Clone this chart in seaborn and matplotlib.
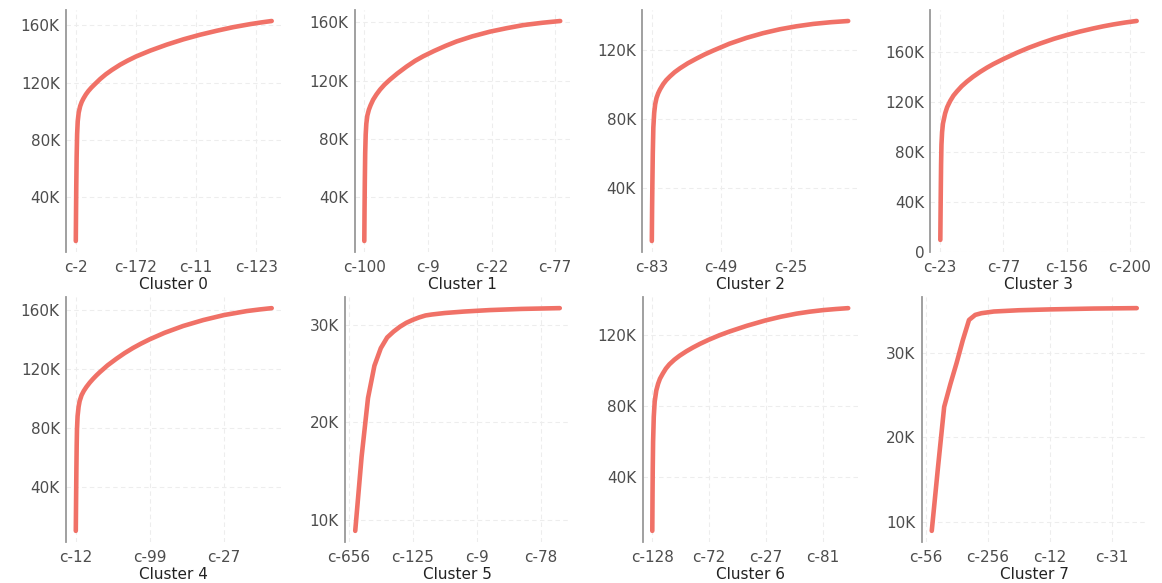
import matplotlib
matplotlib.use("Agg")
import matplotlib.pyplot as plt
import seaborn as sns
import pandas as pd
from matplotlib.ticker import FuncFormatter, MultipleLocator, FixedLocator

# ---------------- data (cumulative word counts by category rank) ----------------
cluster0_rank = [1, 3, 5, 8, 12, 17, 25, 37, 50, 65, 85, 106, 130, 160, 203, 250, 300, 369, 430, 500,
                 618, 756, 894, 1032, 1171, 1308, 1447, 1540, 1627]
cluster0_cum = [9500, 30000, 48000, 68000, 84000, 93000, 99000, 103500, 106500, 109000, 111800, 114200,
                116500, 119000, 122500, 125800, 128800, 132500, 135300, 138200, 142300, 146500, 150200,
                153400, 156200, 158700, 160800, 162000, 163000]
cluster0_ticks = ["c-2", "c-172", "c-11", "c-123"]

cluster1_rank = [1, 3, 5, 8, 12, 17, 25, 37, 50, 70, 96, 125, 160, 201, 260, 332, 400, 463, 550, 640,
                 726, 850, 988, 1120, 1250, 1400, 1539]
cluster1_cum = [10000, 32000, 50000, 70000, 83000, 90500, 96000, 100000, 103000, 106800, 110400, 113800,
                117200, 120500, 124800, 129500, 133500, 136600, 140300, 143800, 146800, 150300, 153500,
                155900, 158000, 159600, 160800]
cluster1_ticks = ["c-100", "c-9", "c-22", "c-77"]

cluster2_rank = [1, 3, 5, 8, 12, 18, 25, 35, 47, 60, 83, 105, 132, 165, 204, 260, 324, 380, 443, 560,
                 683, 800, 923, 1040, 1163, 1290, 1414]
cluster2_cum = [9000, 28000, 42000, 60000, 75000, 83500, 88500, 92300, 95000, 97200, 100300, 102600,
                104800, 107200, 109500, 112400, 115200, 117500, 119800, 123800, 127200, 129900, 132200,
                133900, 135300, 136300, 137000]
cluster2_ticks = ["c-83", "c-49", "c-25"]

cluster3_rank = [1, 3, 5, 7, 10, 15, 22, 39, 55, 79, 105, 132, 170, 211, 260, 316, 370, 421, 500, 606,
                 700, 790, 900, 1001, 1105, 1211, 1290, 1369, 1460, 1554]
cluster3_cum = [9700, 32000, 52000, 70000, 86000, 96000, 103000, 111000, 116000, 121000, 125300, 128600,
                132800, 136500, 140400, 144300, 147700, 150600, 154600, 159600, 163600, 167000, 170800,
                173800, 176600, 179100, 180800, 182300, 183800, 185100]
cluster3_ticks = ["c-23", "c-77", "c-156", "c-200"]

cluster4_rank = [1, 3, 5, 7, 9, 13, 20, 27, 40, 55, 72, 95, 117, 140, 162, 215, 275, 330, 387, 440, 500,
                 600, 725, 860, 1000, 1153, 1240, 1322]
cluster4_cum = [10300, 32000, 52000, 68000, 79000, 88000, 94500, 98300, 102300, 105200, 107800, 110800,
                113300, 115700, 117800, 122500, 127000, 130800, 134300, 137200, 140200, 144600, 149200,
                153200, 156600, 159300, 160400, 161300]
cluster4_ticks = ["c-12", "c-99", "c-27"]

cluster5_rank = [1, 2, 3, 4, 5, 6, 7, 8, 9, 10, 11, 12, 13, 15, 18, 22, 27, 33]
cluster5_cum = [8900, 16500, 22500, 25800, 27600, 28700, 29300, 29800, 30200, 30500, 30750, 30950, 31050,
                31200, 31350, 31500, 31620, 31700]
cluster5_ticks = ["c-656", "c-125", "c-9", "c-78"]

cluster6_rank = [1, 3, 5, 8, 14, 22, 36, 52, 68, 93, 120, 151, 195, 240, 300, 357, 420, 497, 590, 679,
                 830, 993, 1130, 1265, 1380, 1500, 1610, 1719]
cluster6_cum = [10000, 30000, 45000, 60000, 74000, 82500, 88700, 92500, 95300, 98200, 101000, 103400,
                106000, 108200, 110700, 112800, 114900, 117200, 119700, 121800, 125000, 128000, 130100,
                131800, 132900, 133800, 134400, 134900]
cluster6_ticks = ["c-128", "c-72", "c-27", "c-81"]

cluster7_rank = [1, 2, 3, 4, 5, 6, 7, 8, 9, 11, 15, 20, 27, 34]
cluster7_cum = [8900, 16400, 23600, 26300, 28800, 31500, 33900, 34500, 34700, 34900, 35050, 35150, 35250, 35300]
cluster7_ticks = ["c-56", "c-256", "c-12", "c-31"]

tick_step = [500, 500, 500, 500, 500, 10, 500, 10]
y_step = [40000, 40000, 40000, 40000, 40000, 10000, 40000, 10000]

# ---------------- styling ----------------
sns.set_style("white")
plt.rcParams["font.family"] = ["DejaVu Sans"]
LINE = "#F07167"

W, H = 1162, 583
fig = plt.figure(figsize=(W / 100, H / 100), dpi=100)

# axes boxes in pixels: (left, right, top, bottom)
boxes = [
    (66, 281.5, 10, 252), (354.5, 570, 10, 252), (642, 858, 10, 252), (930.5, 1146.5, 10, 252),
    (66, 281.5, 297, 542), (345, 570, 297, 542), (642.5, 858, 297, 542), (921.5, 1147, 297, 542),
]

ranks = [cluster0_rank, cluster1_rank, cluster2_rank, cluster3_rank,
         cluster4_rank, cluster5_rank, cluster6_rank, cluster7_rank]
cums = [cluster0_cum, cluster1_cum, cluster2_cum, cluster3_cum,
        cluster4_cum, cluster5_cum, cluster6_cum, cluster7_cum]
ticks = [cluster0_ticks, cluster1_ticks, cluster2_ticks, cluster3_ticks,
         cluster4_ticks, cluster5_ticks, cluster6_ticks, cluster7_ticks]


def kfmt(v, pos):
    if abs(v) < 1e-9:
        return "0"
    return f"{int(round(v / 1000))}K"


for i in range(8):
    l, r, t, b = boxes[i]
    ax = fig.add_axes([l / W, 1 - b / H, (r - l) / W, (b - t) / H])
    df = pd.DataFrame({"rank": ranks[i], "cum": cums[i]})
    sns.lineplot(data=df, x="rank", y="cum", ax=ax, color=LINE, linewidth=3.3,
                 solid_capstyle="round", solid_joinstyle="round")
    if i == 3:
        ax.set_ylim(bottom=0)
    k = tick_step[i]
    labels = ticks[i]
    ax.xaxis.set_major_locator(FixedLocator([k * j for j in range(len(labels))]))
    ax.set_xticklabels(labels)
    ax.yaxis.set_major_locator(MultipleLocator(y_step[i]))
    ax.yaxis.set_major_formatter(FuncFormatter(kfmt))
    ax.set_xlabel(f"Cluster {i}", fontsize=11, color="#222222", labelpad=2)
    ax.set_ylabel("")
    for s in ["top", "right", "bottom"]:
        ax.spines[s].set_visible(False)
    ax.spines["left"].set_color("#999999")
    ax.spines["left"].set_linewidth(1.3)
    ax.grid(True, color="#ededed", linestyle=(0, (4, 3)), linewidth=0.8)
    ax.set_axisbelow(True)
    ax.tick_params(axis="both", labelsize=11, labelcolor="#4d4d4d", color="#999999",
                   length=3, width=0.8, pad=1.5)
    ax.tick_params(axis="x", pad=2.5)

fig.savefig("out.png", dpi=100)
